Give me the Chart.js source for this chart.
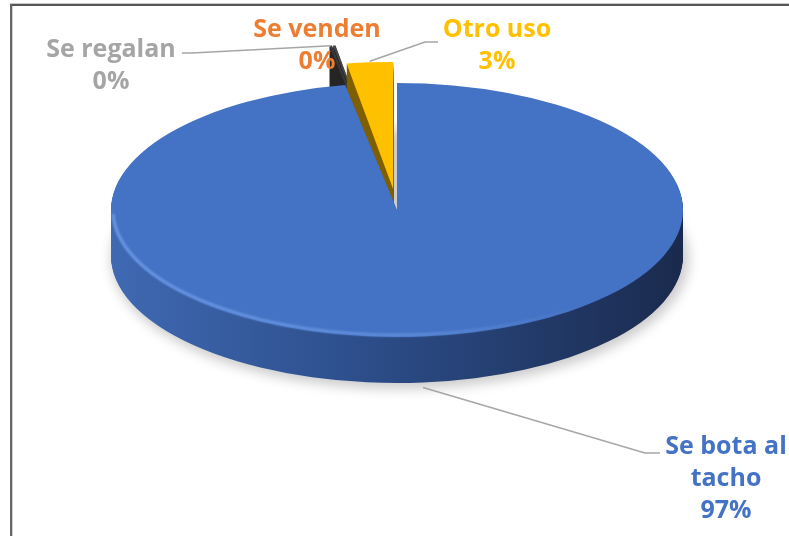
<!DOCTYPE html>
<html><head><meta charset="utf-8">
<script src="https://cdn.jsdelivr.net/npm/chart.js@4"></script>
<style>html,body{margin:0;padding:0;background:#fff}canvas{display:block}</style>
</head><body>
<canvas id="c" width="789" height="536"></canvas>
<script>
// ---- data ----
const categories = ['Se bota al tacho', 'Se regalan', 'Se venden', 'Otro uso'];
const values = [97.1, 0.15, 0.15, 2.6];
const labelLines = [['Se bota al', 'tacho'], ['Se regalan'], ['Se venden'], ['Otro uso']];
const topColors = ['#4472C4', '#3A3A3A', '#454545', '#FFC000'];
const labelColors = ['#4472C4', '#A5A5A5', '#ED7D31', '#FFC000'];

const total = values.reduce((a, b) => a + b, 0);
const pctText = values.map(v => Math.round(v / total * 100) + '%');

function drawArcWith(arc, ctx, color) {
  const p = Object.create(arc);
  p.options = Object.assign({}, arc.options, {backgroundColor: color, borderWidth: 0, offset: 0, spacing: 0});
  arc.draw.call(p, ctx);
}

const pie3d = {
  id: 'pie3d',
  geo(chart, opts) {
    const arcs = chart.getDatasetMeta(0).data;
    const a0 = arcs[0];
    const cx = a0.x, cy = a0.y, R = a0.outerRadius;
    return {arcs, cx, cy, R, sx: opts.rx / R, sy: opts.ry / R};
  },
  explodeVec(g, arc, e) {
    const m = (arc.startAngle + arc.endAngle) / 2;
    return [Math.cos(m) * e * g.sx, Math.sin(m) * e * g.sy];
  },
  beforeDatasetsDraw(chart, args, opts) {
    const ctx = chart.ctx;
    const g = this.geo(chart, opts);
    const {arcs, cx, cy, R, sx, sy} = g;
    const depth = opts.depth;
    // floor shadow
    ctx.save();
    ctx.filter = 'blur(6px)';
    ctx.fillStyle = 'rgba(0,0,0,0.2)';
    ctx.beginPath();
    ctx.ellipse(cx + 3, cy + depth + 3, opts.rx + 3, opts.ry + 3, 0, 0, Math.PI * 2);
    ctx.fill();
    ctx.restore();

    const order = arcs.map((a, i) => i).sort((i, j) => {
      const yi = Math.sin((arcs[i].startAngle + arcs[i].endAngle) / 2) * (R + opts.explode[i]);
      const yj = Math.sin((arcs[j].startAngle + arcs[j].endAngle) / 2) * (R + opts.explode[j]);
      return yi - yj;
    });
    for (const i of order) {
      const arc = arcs[i];
      if (arc.circumference === 0) continue;
      const [ex, ey] = this.explodeVec(g, arc, opts.explode[i]);
      let side = opts.sideColors[i];
      for (let k = depth; k >= 0; k--) {
        ctx.save();
        ctx.translate(cx + ex, cy + ey + k);
        ctx.scale(sx, sy);
        ctx.translate(-cx, -cy);
        let col;
        if (k === 0) col = topColors[i];
        else if (side === 'grad') {
          const gr = ctx.createLinearGradient(cx - R, 0, cx + R, 0);
          gr.addColorStop(0, '#3F69B3');
          gr.addColorStop(0.45, '#2C4D89');
          gr.addColorStop(1, '#1A2A4D');
          col = gr;
        } else col = side;
        drawArcWith(arc, ctx, col);
        ctx.restore();
      }
      if (i === 0) {
        // bevel highlight on front rim, strongest on the left
        ctx.save();
        const hg = ctx.createLinearGradient(cx - opts.rx, 0, cx + opts.rx, 0);
        hg.addColorStop(0, 'rgba(120,165,240,0.75)');
        hg.addColorStop(0.5, 'rgba(120,165,240,0.55)');
        hg.addColorStop(0.85, 'rgba(120,165,240,0.0)');
        ctx.beginPath();
        ctx.ellipse(cx + ex, cy + ey, opts.rx - 2, opts.ry - 2, 0, 0.05 * Math.PI, 0.99 * Math.PI);
        ctx.strokeStyle = hg;
        ctx.lineWidth = 3;
        ctx.filter = 'blur(1.2px)';
        ctx.stroke();
        ctx.restore();
      }
    }
    return false;
  },
  afterDraw(chart, args, opts) {
    const ctx = chart.ctx;
    const g = this.geo(chart, opts);
    const {arcs, cx, cy} = g;
    // frame
    ctx.save();
    ctx.fillStyle = '#c8c8c8';
    ctx.fillRect(10, 3, 779, 1);
    ctx.fillStyle = '#555';
    ctx.fillRect(10, 4, 779, 2);
    ctx.fillStyle = '#666';
    ctx.fillRect(10, 4, 2, 532);
    ctx.fillStyle = '#d0d0d0';
    ctx.fillRect(12, 6, 1, 530);
    ctx.restore();

    // leader lines
    const anchor = (i, bottom, pad) => {
      const a = arcs[i];
      const m = (a.startAngle + a.endAngle) / 2;
      const [ex, ey] = this.explodeVec(g, a, opts.explode[i]);
      const x = cx + Math.cos(m) * opts.rx + ex;
      const y = cy + Math.sin(m) * opts.ry + ey + (bottom ? opts.depth + pad : -pad);
      return [x, y];
    };
    ctx.save();
    ctx.strokeStyle = '#A6A6A6';
    ctx.lineWidth = 1.6;
    for (const L of opts.leaders) {
      const [ax, ay] = anchor(L.i, L.bottom, L.pad);
      ctx.beginPath();
      ctx.moveTo(L.pts[0][0], L.pts[0][1]);
      ctx.lineTo(L.pts[1][0], L.pts[1][1]);
      ctx.lineTo(ax, ay);
      ctx.stroke();
    }
    ctx.restore();

    // labels
    ctx.save();
    ctx.font = '700 25px "Open Sans"';
    ctx.textAlign = 'center';
    ctx.textBaseline = 'alphabetic';
    opts.labelPos.forEach((p, i) => {
      ctx.fillStyle = labelColors[i];
      const lines = labelLines[i].concat([pctText[i]]);
      lines.forEach((t, k) => ctx.fillText(t, p[0], p[1] + k * opts.lineH));
    });
    ctx.restore();
  }
};

new Chart(document.getElementById('c'), {
  type: 'pie',
  data: {
    labels: categories,
    datasets: [{data: values, backgroundColor: topColors, borderWidth: 0}]
  },
  options: {
    responsive: false,
    animation: false,
    layout: {padding: {left: 5, right: 0, top: 0, bottom: 116}},
    plugins: {
      legend: {display: false},
      tooltip: {enabled: false},
      pie3d: {
        rx: 286, ry: 127, depth: 46,
        explode: [0, 66, 66, 35],
        sideColors: ['grad', '#262626', '#262626', '#7F6000'],
        lineH: 32,
        labelPos: [[726, 454], [111, 57], [317, 37], [497, 37]],
        leaders: [
          {i: 0, bottom: true, pad: 5, pts: [[660, 453], [645, 453]]},
          {i: 1, bottom: false, pad: 0, pts: [[182, 53], [192, 53]]},
          {i: 3, bottom: false, pad: 1, pts: [[438, 42], [425, 42]]}
        ]
      }
    }
  },
  plugins: [pie3d]
});
</script>
</body></html>
